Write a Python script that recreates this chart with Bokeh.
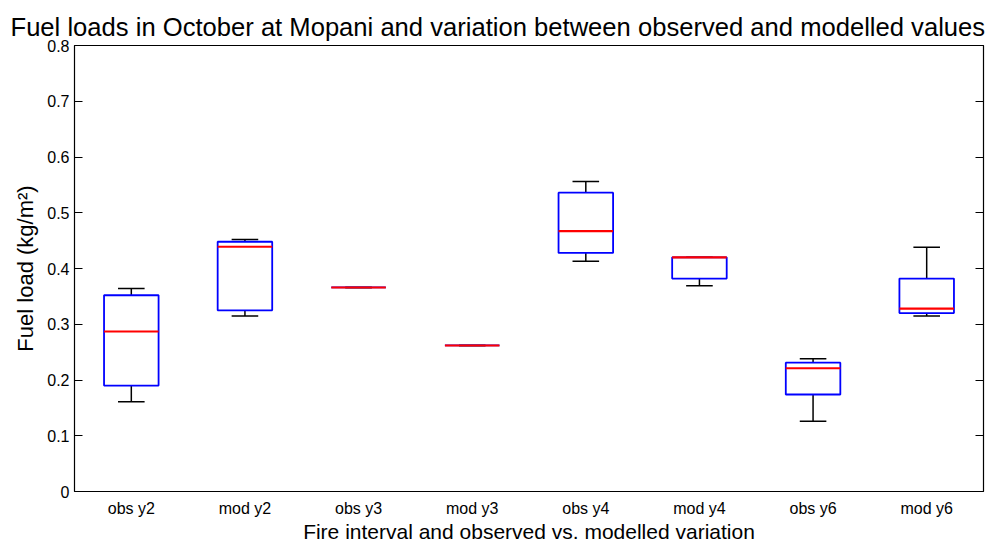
from bokeh.plotting import figure
from bokeh.models import FixedTicker, LinearAxis, Range1d, Title
from bokeh.embed import file_html
from bokeh.resources import INLINE

categories = ["obs y2", "mod y2", "obs y3", "mod y3", "obs y4", "mod y4", "obs y6", "mod y6"]
lower = [0.161, 0.315, 0.366, 0.262, 0.413, 0.369, 0.126, 0.315]
q1 = [0.190, 0.325, 0.366, 0.262, 0.428, 0.382, 0.174, 0.320]
median = [0.287, 0.439, 0.366, 0.262, 0.467, 0.420, 0.221, 0.328]
q3 = [0.352, 0.448, 0.366, 0.262, 0.536, 0.420, 0.231, 0.382]
upper = [0.364, 0.452, 0.366, 0.262, 0.556, 0.420, 0.238, 0.438]
y_ticks = [0, 0.1, 0.2, 0.3, 0.4, 0.5, 0.6, 0.7, 0.8]

pos = list(range(1, len(categories) + 1))
FONT = "Liberation Sans"

p = figure(width=990, height=545, output_backend="svg", toolbar_location=None,
           x_range=Range1d(0.5, 8.5), y_range=Range1d(0, 0.8),
           min_border_left=74, min_border_right=7, min_border_top=45, min_border_bottom=54)
p.title = Title(text="Fuel loads in October at Mopani and variation  between observed and modelled values",
                text_font=FONT, text_font_size="25.6px", text_font_style="normal",
                text_color="black", align="left", offset=-64, standoff=9)
p.xgrid.visible = False
p.ygrid.visible = False
p.outline_line_color = "black"
p.outline_line_width = 1.2
p.background_fill_color = "white"
p.border_fill_color = "white"

hw = 0.24
cw = 0.117
# whiskers
p.segment(x0=pos, y0=q3, x1=pos, y1=upper, line_color="black", line_width=1.5)
p.segment(x0=pos, y0=lower, x1=pos, y1=q1, line_color="black", line_width=1.5)
p.segment(x0=[x - cw for x in pos], y0=upper, x1=[x + cw for x in pos], y1=upper, line_color="black", line_width=1.5)
p.segment(x0=[x - cw for x in pos], y0=lower, x1=[x + cw for x in pos], y1=lower, line_color="black", line_width=1.5)
# boxes
p.quad(left=[x - hw for x in pos], right=[x + hw for x in pos], bottom=q1, top=q3,
       fill_color=None, line_color="blue", line_width=1.8)
# medians
p.segment(x0=[x - hw for x in pos], y0=median, x1=[x + hw for x in pos], y1=median,
          line_color="red", line_width=2.1)

xa = p.xaxis[0]
xa.ticker = FixedTicker(ticks=pos)
xa.major_label_overrides = {x: c for x, c in zip(pos, categories)}
xa.major_tick_in = 0
xa.major_tick_out = 0
xa.minor_tick_line_color = None
xa.axis_line_color = None
xa.major_label_text_font = FONT
xa.major_label_text_font_size = "16px"
xa.major_label_text_color = "black"
xa.major_label_standoff = 8
xa.axis_label = "Fire interval and observed vs. modelled variation"
xa.axis_label_text_font = FONT
xa.axis_label_text_font_size = "21px"
xa.axis_label_text_font_style = "normal"
xa.axis_label_text_color = "black"
xa.axis_label_standoff = 0

ya = p.yaxis[0]
ya.ticker = FixedTicker(ticks=y_ticks)
ya.major_label_overrides = {0: "0"}
ya.major_tick_in = 8
ya.major_tick_out = 0
ya.minor_tick_line_color = None
ya.axis_line_color = None
ya.major_label_text_font = FONT
ya.major_label_text_font_size = "16px"
ya.major_label_text_color = "black"
ya.major_label_standoff = 5
ya.axis_label = "Fuel load (kg/m²)"
ya.axis_label_text_font = FONT
ya.axis_label_text_font_size = "22px"
ya.axis_label_text_font_style = "normal"
ya.axis_label_text_color = "black"
ya.axis_label_standoff = 6

ra = LinearAxis(ticker=FixedTicker(ticks=y_ticks),
                major_label_overrides={t: "" for t in y_ticks},
                major_tick_in=8, major_tick_out=0, minor_tick_line_color=None,
                axis_line_color=None, major_label_standoff=0)
p.add_layout(ra, "right")

open("out.html", "w").write(file_html(p, INLINE))
